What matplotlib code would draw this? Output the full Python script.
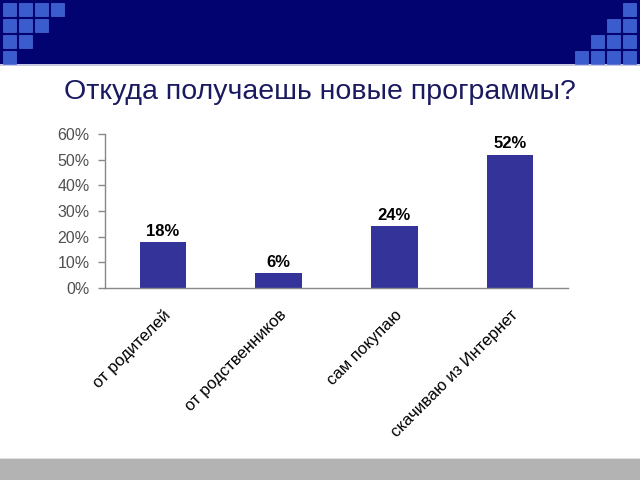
import matplotlib.pyplot as plt
from matplotlib.patches import Rectangle
import numpy as np

plt.rcParams['font.family'] = ['Liberation Sans', 'DejaVu Sans']

title = 'Откуда получаешь новые программы?'
categories = ['от родителей', 'от родственников', 'сам покупаю', 'скачиваю из Интернет']
values = [0.18, 0.06, 0.24, 0.52]
value_labels = ['18%', '6%', '24%', '52%']
yticks = [0, 0.1, 0.2, 0.3, 0.4, 0.5, 0.6]

W, H = 640, 480
fig = plt.figure(figsize=(6.4, 4.8), dpi=100)
fig.patch.set_facecolor('white')

# header band
fig.patches.append(Rectangle((0, 1 - 64 / H), 1, 64 / H, transform=fig.transFigure,
                             facecolor='#020270', edgecolor='none', zorder=0))
fig.patches.append(Rectangle((0, 1 - 66 / H), 1, 2 / H, transform=fig.transFigure,
                             facecolor='#c8c8e0', edgecolor='none', zorder=0))

# decorative squares
def square(px, py):
    fig.patches.append(Rectangle((px / W, 1 - (py + 13) / H), 13 / W, 13 / H,
                                 transform=fig.transFigure, facecolor='#3a5ccc',
                                 edgecolor='#4a6ad8', lw=0.5, zorder=1))

left_rows = [4, 3, 2, 1]
for r, n in enumerate(left_rows):
    for c in range(n):
        square(3 + 16 * c, 3 + 16 * r)
right_rows = [1, 2, 3, 4]
for r, n in enumerate(right_rows):
    for c in range(n):
        square(623 - 16 * c, 3 + 16 * r)

# footer band
fig.patches.append(Rectangle((0, 0), 1, 21 / H, transform=fig.transFigure,
                             facecolor='#b3b3b3', edgecolor='none', zorder=0))
fig.patches.append(Rectangle((0, 21 / H), 1, 1.5 / H, transform=fig.transFigure,
                             facecolor='#e0e0e0', edgecolor='none', zorder=0))

fig.text(0.5, 1 - 92 / H, title, ha='center', va='center', fontsize=20.5, color='#1a1a60')

ax = fig.add_axes([105 / W, 1 - 288 / H, 463 / W, 154 / H])
x = np.arange(len(categories))
bars = ax.bar(x, values, width=0.4, color='#333399', edgecolor='none')
for b, lab in zip(bars, value_labels):
    ax.text(b.get_x() + b.get_width() / 2, b.get_height() + 0.012, lab,
            ha='center', va='bottom', fontsize=12, fontweight='bold', color='black')

ax.set_xlim(-0.5, 3.5)
ax.set_ylim(0, 0.6)
ax.set_yticks(yticks)
ax.set_yticklabels([f'{int(round(t * 100))}%' for t in yticks], fontsize=11.5, color='#505050')
ax.set_xticks(x)
ax.set_xticklabels(categories, rotation=45, ha='right', rotation_mode='anchor',
                   fontsize=12, color='black')
ax.tick_params(axis='x', length=0, pad=14)
ax.tick_params(axis='y', length=5, color='#888888', width=1, pad=6)
for s in ['top', 'right']:
    ax.spines[s].set_visible(False)
for s in ['left', 'bottom']:
    ax.spines[s].set_color('#888888')
    ax.spines[s].set_linewidth(1)

fig.savefig('out.png', dpi=100)
